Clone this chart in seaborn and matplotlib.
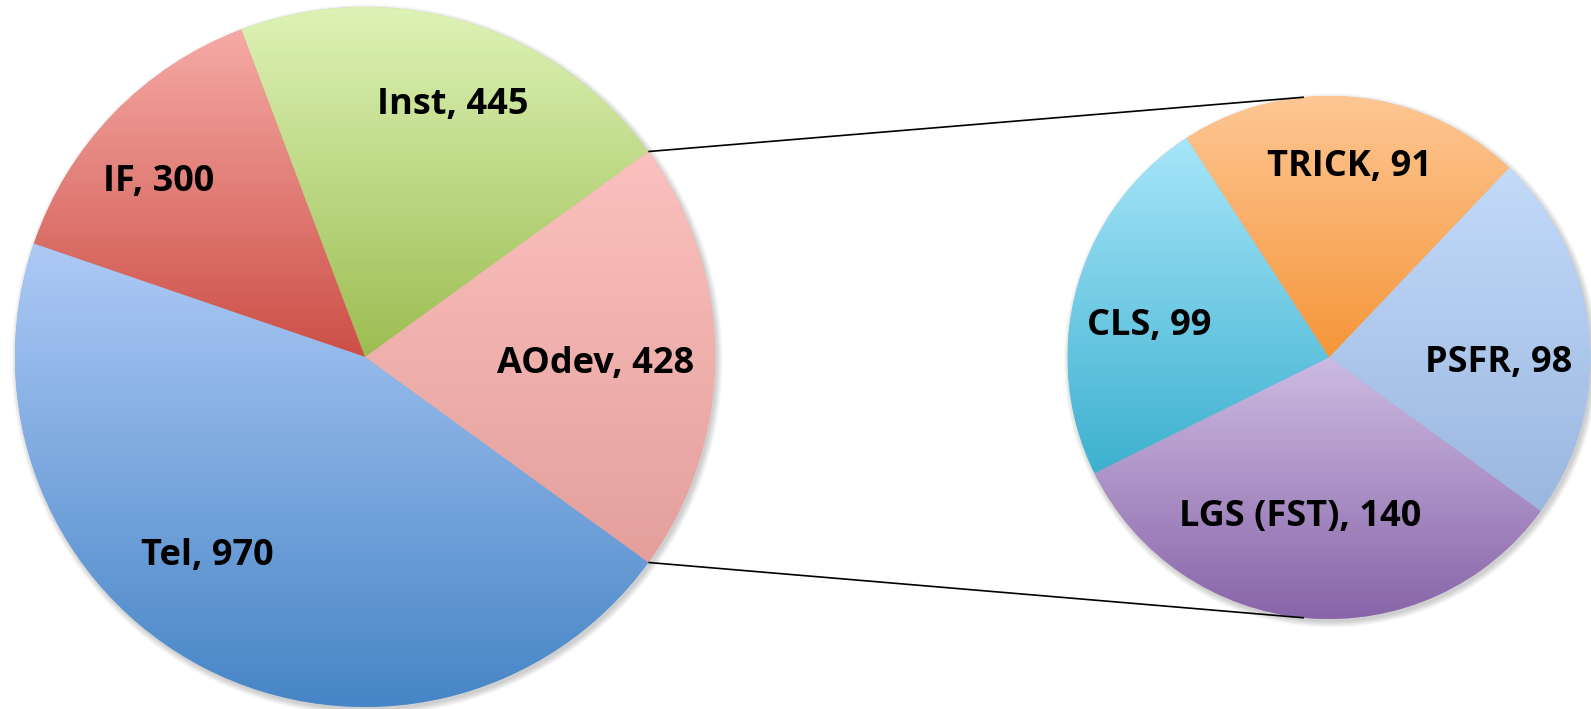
import numpy as np
import matplotlib.pyplot as plt
import seaborn as sns
from matplotlib.colors import LinearSegmentedColormap
from matplotlib.patches import Circle

# data: main pie, AOdev broken out into the second pie
main_labels = ["AOdev", "Inst", "IF", "Tel"]
main_values = [428, 445, 300, 970]
sub_labels = ["PSFR", "TRICK", "CLS", "LGS (FST)"]
sub_values = [98, 91, 99, 140]

# gradient colours (top, bottom) per wedge
main_top = ["#fbc1be", "#ddf3b6", "#f6aaa5", "#aecaf6"]
main_bot = ["#e49f9b", "#9dbd52", "#cc4f47", "#4685c6"]
sub_top = ["#c3dafa", "#fec794", "#a8e6fa", "#cdbbe2"]
sub_bot = ["#9bb7df", "#f5963a", "#3db1cf", "#8865a9"]

# label offsets as fraction of radius (dx, dy)
main_pos = [(0.66, -0.02), (0.25, 0.72), (-0.59, 0.50), (-0.45, -0.57)]
sub_pos = [(0.65, -0.02), (0.08, 0.73), (-0.686, 0.12), (-0.11, -0.61)]

sns.set_theme(style="white")
plt.rcParams["font.family"] = ["Open Sans", "DejaVu Sans"]

W, H = 1591, 709
fig = plt.figure(figsize=(W / 100, H / 100), dpi=100)
ax = fig.add_axes([0, 0, 1, 1])

c1, r1 = (365, H - 357), 350
c2, r2 = (1329, H - 357.5), 261.5
start = -main_values[0] / sum(main_values) * 180


def gradient_pie(values, labels, tops, bots, pos, center, radius):
    # soft shadow
    for k in range(8):
        ax.add_patch(Circle((center[0] + 2, center[1] - 3), radius + k * 0.8,
                            color="black", alpha=0.025, lw=0, zorder=0))
    wedges, _ = ax.pie(values, startangle=start, counterclock=True,
                       radius=radius, center=center,
                       wedgeprops=dict(linewidth=0))
    for w, top, bot, lab, v, (dx, dy) in zip(wedges, tops, bots, labels, values, pos):
        w.set_facecolor(sns.blend_palette([bot, top], 3)[1])
        ext = w.get_path().get_extents()
        cmap = LinearSegmentedColormap.from_list("g", [bot, top])
        grad = np.linspace(0, 1, 256).reshape(-1, 1)
        im = ax.imshow(grad, extent=(ext.x0, ext.x1, ext.y0, ext.y1),
                       origin="lower", cmap=cmap, aspect="auto", zorder=2,
                       interpolation="bilinear")
        im.set_clip_path(w)
        ax.text(center[0] + dx * radius, center[1] + dy * radius, f"{lab}, {v}",
                ha="center", va="center", fontsize=26, fontweight="bold",
                color="black", zorder=5)
    return wedges


w_main = gradient_pie(main_values, main_labels, main_top, main_bot, main_pos, c1, r1)
gradient_pie(sub_values, sub_labels, sub_top, sub_bot, sub_pos, c2, r2)

# connector lines from the AOdev wedge to the second pie
ao = w_main[0]
for th, sgn in [(ao.theta2, 1), (ao.theta1, -1)]:
    x0 = c1[0] + r1 * np.cos(np.radians(th))
    y0 = c1[1] + r1 * np.sin(np.radians(th))
    a2 = np.radians(sgn * 95.5)
    x1 = c2[0] + r2 * np.cos(a2)
    y1 = c2[1] + r2 * np.sin(a2)
    ax.plot([x0, x1], [y0, y1], color="black", lw=1.2, zorder=4,
            solid_capstyle="butt")

ax.set_xlim(0, W)
ax.set_ylim(0, H)
ax.set_aspect("auto")
ax.axis("off")
fig.savefig("out.png", dpi=100, facecolor="white")
